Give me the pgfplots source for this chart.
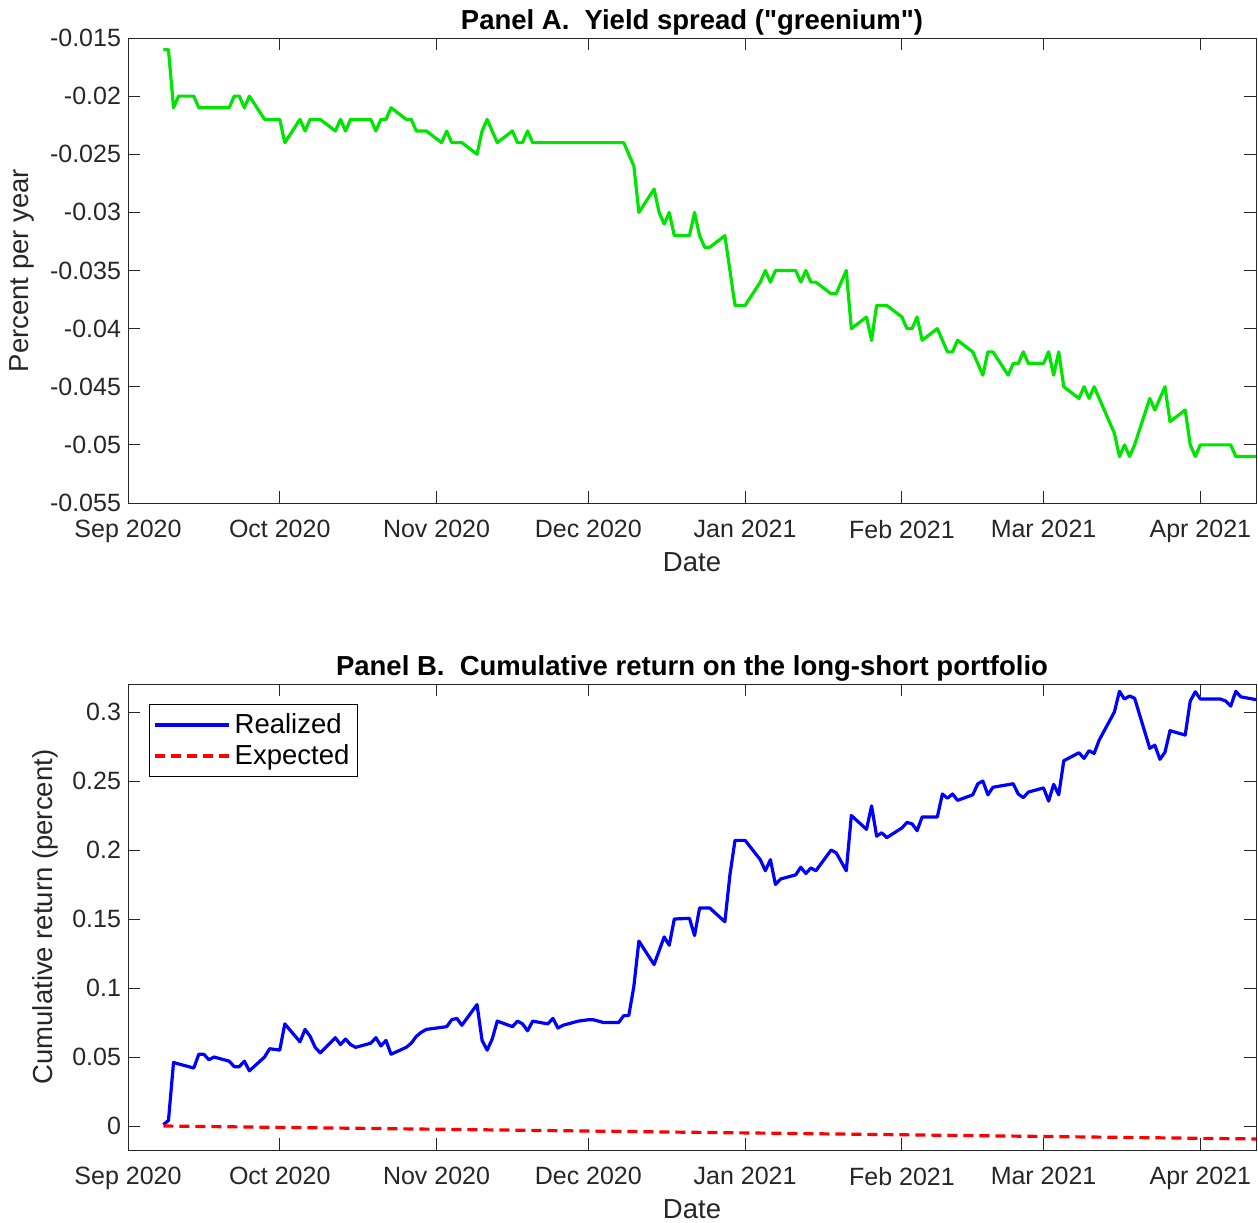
\documentclass[border=0pt]{standalone}
\usepackage{fontspec}
\setmainfont{Liberation Sans}
\usepackage{pgfplots}
\pgfplotsset{compat=1.18}
\definecolor{axgray}{rgb}{0.15,0.15,0.15}
\definecolor{mgreen}{rgb}{0,0.9,0}
\begin{document}
\begin{tikzpicture}
\useasboundingbox (0pt,0pt) rectangle (629pt,-611pt);
\pgfplotsset{
 mystyle/.style={
  scale only axis, width=564pt, xmin=0, xmax=223,
  xtick={0,30,61,91,122,153,181,212},
  xticklabels={Sep 2020,Oct 2020,Nov 2020,Dec 2020,Jan 2021,Feb 2021,Mar 2021,Apr 2021},
  scaled x ticks=false, scaled y ticks=false,
  tick align=inside, major tick length=6pt, tick pos=both, ticklabel pos=left,
  minor tick num=0,
  axis line style={axgray, line width=0.5pt},
  every tick/.style={axgray, line width=0.5pt},
  ticklabel style={font=\fontsize{12.5}{14}\selectfont, text=axgray},
  xticklabel style={yshift=-5pt},
  title style={font=\bfseries\fontsize{13.75}{16}\selectfont, at={(axis description cs:0.5,1)}, yshift=2pt, anchor=center},
  xlabel=Date,
  every axis x label/.style={at={(axis description cs:0.5,0)}, yshift=-29.5pt, anchor=center, font=\fontsize{13.75}{16}\selectfont, text=axgray},
  anchor=north west,
  clip=true,
 }
}
\begin{axis}[mystyle, at={(64pt,-19pt)}, height=232.5pt,
  ymin=-0.055, ymax=-0.015,
  ytick={-0.055,-0.05,-0.045,-0.04,-0.035,-0.03,-0.025,-0.02,-0.015},
  yticklabels={-0.055,-0.05,-0.045,-0.04,-0.035,-0.03,-0.025,-0.02,-0.015},
  title={Panel A.\ \ Yield spread (\textquotedbl greenium\textquotedbl)},
  ylabel={Percent per year},
  every axis y label/.style={at={(axis description cs:-0.094,0.5)}, rotate=90, anchor=center, font=\fontsize{13.75}{16}\selectfont, text=axgray},
]
\addplot[mgreen, line width=1.6pt, line join=round] coordinates {
(7,-0.016)(8,-0.016)(9,-0.021)(10,-0.020)(13,-0.020)(14,-0.021)(20,-0.021)(21,-0.020)(22,-0.020)(23,-0.021)(24,-0.020)(27,-0.022)(30,-0.022)(31,-0.024)(34,-0.022)(35,-0.023)(36,-0.022)(38,-0.022)(41,-0.023)(42,-0.022)(43,-0.023)(44,-0.022)(48,-0.022)(49,-0.023)(50,-0.022)(51,-0.022)(52,-0.021)(55,-0.022)(56,-0.022)(57,-0.023)(59,-0.023)(62,-0.024)(63,-0.023)(64,-0.024)(66,-0.024)(69,-0.025)(70,-0.023)(71,-0.022)(73,-0.024)(76,-0.023)(77,-0.024)(78,-0.024)(79,-0.023)(80,-0.024)(98,-0.024)(100,-0.026)(101,-0.030)(104,-0.028)(105,-0.030)(106,-0.031)(107,-0.030)(108,-0.032)(111,-0.032)(112,-0.030)(113,-0.032)(114,-0.033)(115,-0.033)(118,-0.032)(120,-0.038)(122,-0.038)(125,-0.036)(126,-0.035)(127,-0.036)(128,-0.035)(132,-0.035)(133,-0.036)(134,-0.035)(135,-0.036)(136,-0.036)(139,-0.037)(140,-0.037)(142,-0.035)(143,-0.040)(146,-0.039)(147,-0.041)(148,-0.038)(150,-0.038)(153,-0.039)(154,-0.040)(155,-0.040)(156,-0.039)(157,-0.041)(160,-0.040)(162,-0.042)(163,-0.042)(164,-0.041)(167,-0.042)(169,-0.044)(170,-0.042)(171,-0.042)(174,-0.044)(175,-0.043)(176,-0.043)(177,-0.042)(178,-0.043)(181,-0.043)(182,-0.042)(183,-0.044)(184,-0.042)(185,-0.045)(188,-0.046)(189,-0.045)(190,-0.046)(191,-0.045)(195,-0.049)(196,-0.051)(197,-0.050)(198,-0.051)(199,-0.050)(202,-0.046)(203,-0.047)(205,-0.045)(206,-0.048)(209,-0.047)(210,-0.050)(211,-0.051)(212,-0.050)(218,-0.050)(219,-0.051)(223,-0.051)
};
\end{axis}
\begin{axis}[mystyle, at={(64pt,-342pt)}, height=233pt,
  ymin=-0.0174, ymax=0.3203,
  ytick={0,0.05,0.1,0.15,0.2,0.25,0.3},
  yticklabels={0,0.05,0.1,0.15,0.2,0.25,0.3},
  title={Panel B.\ \ Cumulative return on the long-short portfolio},
  ylabel={Cumulative return (percent)},
  every axis y label/.style={at={(axis description cs:-0.0736,0.5)}, rotate=90, anchor=center, font=\fontsize{13.75}{16}\selectfont, text=axgray},
  legend style={at={(axis description cs:0.0186,0.957)}, anchor=north west, draw=black, line width=0.5pt, fill=white, font=\fontsize{13.75}{16}\selectfont, inner xsep=2pt, inner ysep=2.5pt, row sep=0pt, cells={anchor=west}},
  legend image code/.code={\draw[#1] (0pt,0pt) -- (37pt,0pt);},
]
\addplot[blue, line width=1.6pt, line join=round] coordinates {
(7,0.001)(8,0.004)(9,0.046)(13,0.042)(14,0.052)(15,0.052)(16,0.048)(17,0.050)(20,0.047)(21,0.043)(22,0.043)(23,0.047)(24,0.040)(27,0.050)(28,0.056)(30,0.055)(31,0.074)(34,0.061)(35,0.070)(36,0.065)(37,0.057)(38,0.053)(41,0.064)(42,0.059)(43,0.063)(44,0.059)(45,0.057)(48,0.060)(49,0.064)(50,0.058)(51,0.062)(52,0.052)(55,0.057)(56,0.060)(57,0.065)(58,0.068)(59,0.070)(63,0.072)(64,0.077)(65,0.078)(66,0.073)(69,0.088)(70,0.062)(71,0.055)(72,0.063)(73,0.076)(76,0.072)(77,0.076)(78,0.074)(79,0.069)(80,0.076)(83,0.074)(84,0.078)(85,0.071)(86,0.073)(89,0.076)(91,0.077)(92,0.077)(94,0.075)(97,0.075)(98,0.080)(99,0.080)(100,0.101)(101,0.134)(104,0.117)(106,0.137)(107,0.131)(108,0.150)(111,0.1505)(112,0.138)(113,0.158)(115,0.158)(118,0.148)(119,0.182)(120,0.207)(122,0.207)(125,0.193)(126,0.185)(127,0.193)(128,0.175)(129,0.179)(132,0.182)(133,0.1875)(134,0.183)(135,0.187)(136,0.185)(139,0.200)(140,0.198)(142,0.185)(143,0.225)(146,0.215)(147,0.232)(148,0.210)(149,0.2125)(150,0.209)(153,0.216)(154,0.220)(155,0.219)(156,0.214)(157,0.224)(160,0.224)(161,0.2406)(162,0.2375)(163,0.2406)(164,0.236)(167,0.240)(168,0.248)(169,0.250)(170,0.240)(171,0.2455)(175,0.248)(176,0.2406)(177,0.238)(178,0.242)(181,0.245)(182,0.2355)(183,0.2476)(184,0.240)(185,0.2647)(188,0.2705)(189,0.2664)(190,0.272)(191,0.270)(192,0.2797)(195,0.300)(196,0.315)(197,0.3094)(198,0.3116)(199,0.310)(202,0.2737)(203,0.276)(204,0.2657)(205,0.2708)(206,0.2865)(209,0.2833)(210,0.308)(211,0.3147)(212,0.3094)(216,0.3094)(217,0.308)(218,0.3043)(219,0.315)(220,0.311)(223,0.309)
};
\addlegendentry{Realized}
\addplot[red, line width=1.6pt, dash pattern=on 5pt off 3pt] coordinates {
(7,0)(60,-0.0023)(115,-0.0047)(170,-0.0071)(223,-0.0094)
};
\addlegendentry{Expected}
\end{axis}
\end{tikzpicture}
\end{document}
